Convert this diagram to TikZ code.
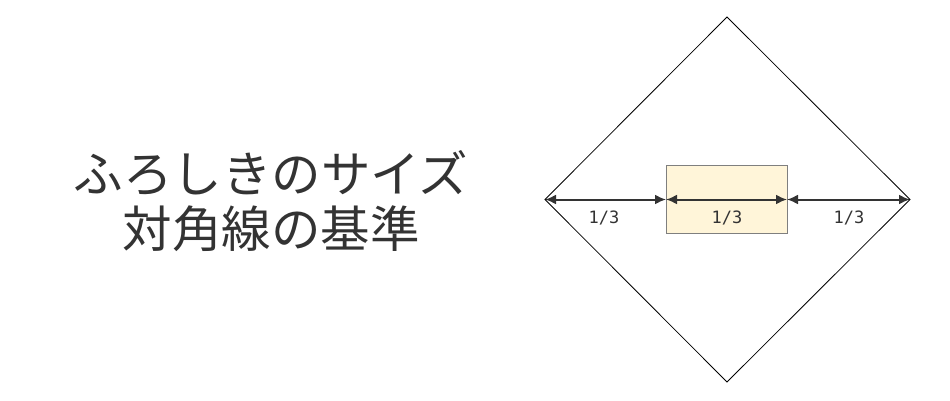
\documentclass[tikz,border=0pt]{standalone}
\usepackage{fontspec}
\usetikzlibrary{arrows.meta}
\newfontfamily\jpfont{Noto Sans CJK JP}
\newfontfamily\numfont{DejaVu Sans Mono}
\definecolor{ink}{HTML}{333333}
\definecolor{cloth}{HTML}{FFF5D9}
\definecolor{edge}{HTML}{7F7F7F}
\begin{document}
\begin{tikzpicture}[x=1pt,y=-1pt,
  measure/.style={{Latex[length=11pt,width=10pt]}-{Latex[length=11pt,width=10pt]}, line width=2pt, draw=ink},
  third/.style={font=\numfont\fontsize{17}{17}\selectfont, text=ink, inner sep=0pt}]
\useasboundingbox (0,0) rectangle (950,400);
\node [align=center, text=ink, inner sep=0pt, font=\jpfont\fontsize{49.5}{55}\selectfont] (title) at (271,201) {ふろしきのサイズ\\対角線の基準};
\coordinate (top) at (727,17);
\coordinate (right) at (910,199.5);
\coordinate (bottom) at (727,382);
\coordinate (left) at (545,199.5);
\coordinate (inl) at (666,199.5);
\coordinate (inr) at (787,199.5);
\draw [fill=cloth, draw=edge] (666,165) rectangle (787,233);
\draw [line width=0.8pt] (top) -- (right) -- (bottom) -- (left) -- cycle;
\draw [measure] (left) -- (inl);
\draw [measure] (inl) -- (inr);
\draw [measure] (inr) -- (right);
\node [third] (lab1) at (604,217.5) {1/3};
\node [third] (lab2) at (727,217.5) {1/3};
\node [third] (lab3) at (849,217.5) {1/3};
\end{tikzpicture}
\end{document}
